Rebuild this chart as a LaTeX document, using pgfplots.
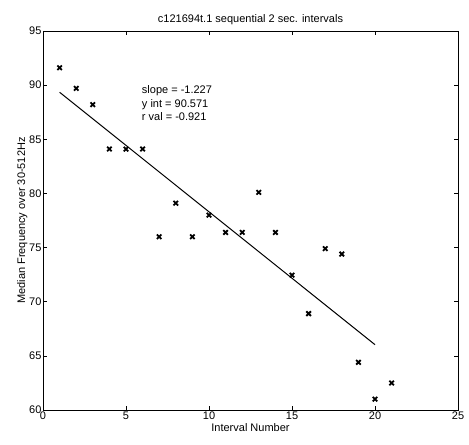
\documentclass[border=0pt]{standalone}
\usepackage{pgfplots}
\pgfplotsset{compat=1.18}
\usepackage{fontspec}
\setmainfont{Liberation Sans}
\begin{document}
\begin{tikzpicture}
\begin{axis}[
  scale only axis,
  width=415pt, height=379pt,
  xmin=0, xmax=25, ymin=60, ymax=95,
  xtick={0,5,...,25}, ytick={60,65,...,95},
  tick align=inside,
  major tick length=4pt,
  tick style={black, line width=0.7pt},
  axis line style={line width=0.9pt},
  /pgf/number format/assume math mode=true,
  tick label style={font=\fontsize{11}{13}\selectfont},
  label style={font=\fontsize{11}{13}\selectfont},
  title style={font=\fontsize{11}{13}\selectfont, yshift=-3pt},
  title={c121694t.1 sequential 2 sec. intervals},
  xlabel={Interval Number},
  ylabel={Median Frequency over 30-512Hz},
  xlabel style={yshift=3pt},
  ylabel style={yshift=-5pt},
  xticklabel style={yshift=2pt},
  yticklabel style={xshift=2pt},
]
\addplot[only marks, mark=x, mark size=3.2pt, line width=1.8pt, black] coordinates {
(1,91.6) (2,89.7) (3,88.2) (4,84.1) (5,84.1) (6,84.1) (7,76.0) (8,79.1)
(9,76.0) (10,78.0) (11,76.4) (12,76.4) (13,80.1) (14,76.4) (15,72.45)
(16,68.9) (17,74.9) (18,74.4) (19,64.4) (20,61.0) (21,62.5)
};
\addplot[black, line width=1pt] coordinates {(1,89.344) (20,66.031)};
\node[anchor=west, align=left, font=\fontsize{11}{13.5}\selectfont, inner sep=0pt] at (axis cs:5.95,88.3) {slope = -1.227\\y int = 90.571\\r val = -0.921};
\coordinate (sw) at (rel axis cs:0,0);
\coordinate (ne) at (rel axis cs:1,1);
\end{axis}
\pgfresetboundingbox
\path ([xshift=-43pt,yshift=-34pt]sw) rectangle ([xshift=11pt,yshift=31pt]ne);
\end{tikzpicture}
\end{document}
